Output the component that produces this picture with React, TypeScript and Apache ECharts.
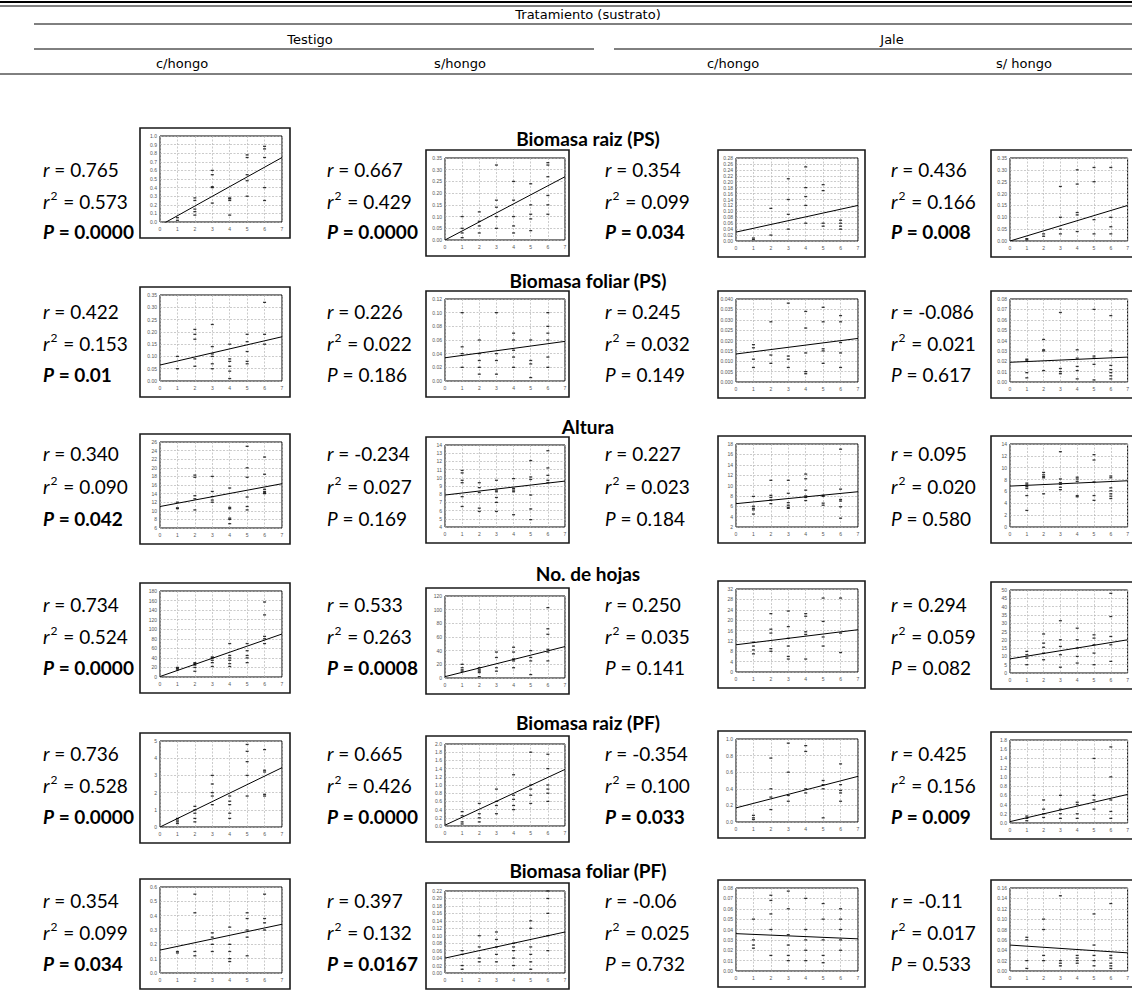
import React, { useEffect, useRef } from "react";
import * as echarts from "echarts";

// ---------- texts ----------
const headerTop = "Tratamiento (sustrato)";
const headerGroups = ["Testigo", "Jale"];
const headerCols = ["c/hongo", "s/hongo", "c/hongo", "s/ hongo"];
const rowTitles = [
  "Biomasa raiz (PS)",
  "Biomasa foliar (PS)",
  "Altura",
  "No. de hojas",
  "Biomasa raiz (PF)",
  "Biomasa foliar (PF)",
];

const rVals = [
  ["0.765", "0.667", "0.354", "0.436"],
  ["0.422", "0.226", "0.245", "-0.086"],
  ["0.340", "-0.234", "0.227", "0.095"],
  ["0.734", "0.533", "0.250", "0.294"],
  ["0.736", "0.665", "-0.354", "0.425"],
  ["0.354", "0.397", "-0.06", "-0.11"],
];
const r2Vals = [
  ["0.573", "0.429", "0.099", "0.166"],
  ["0.153", "0.022", "0.032", "0.021"],
  ["0.090", "0.027", "0.023", "0.020"],
  ["0.524", "0.263", "0.035", "0.059"],
  ["0.528", "0.426", "0.100", "0.156"],
  ["0.099", "0.132", "0.025", "0.017"],
];
const pVals = [
  ["0.0000", "0.0000", "0.034", "0.008"],
  ["0.01", "0.186", "0.149", "0.617"],
  ["0.042", "0.169", "0.184", "0.580"],
  ["0.0000", "0.0008", "0.141", "0.082"],
  ["0.0000", "0.0000", "0.033", "0.009"],
  ["0.034", "0.0167", "0.732", "0.533"],
];
const pBold = [
  [true, true, true, true],
  [true, false, false, false],
  [true, false, false, false],
  [true, true, false, false],
  [true, true, true, true],
  [true, true, false, false],
];

// ---------- scatter data: for each panel, y values observed at x = 1..6 ----------
const biomasaRaizPS = [
  [[0.05, 0.02], [0.28, 0.25, 0.15, 0.12, 0.08], [0.6, 0.55, 0.41, 0.4, 0.22], [0.28, 0.25, 0.27, 0.08], [0.78, 0.75, 0.55, 0.48, 0.3], [0.88, 0.85, 0.75, 0.4, 0.25]],
  [[0.1, 0.05, 0.03, 0.01], [0.12, 0.08, 0.06, 0.03], [0.32, 0.17, 0.14, 0.1, 0.05], [0.25, 0.17, 0.1, 0.06, 0.03], [0.24, 0.15, 0.11, 0.09, 0.04], [0.33, 0.32, 0.27, 0.19, 0.15, 0.11]],
  [[0.01, 0.005], [0.11, 0.02], [0.21, 0.14, 0.09, 0.04], [0.25, 0.18, 0.15, 0.12, 0.06], [0.19, 0.17, 0.06, 0.05], [0.07, 0.06, 0.05, 0.04]],
  [[0.01, 0.005], [0.03, 0.02], [0.23, 0.1, 0.05, 0.03], [0.3, 0.24, 0.12, 0.11, 0.04], [0.31, 0.25, 0.09, 0.03], [0.31, 0.1, 0.06, 0.03]],
];
const biomasaFoliarPS = [
  [[0.1, 0.05], [0.21, 0.19, 0.17, 0.09, 0.06], [0.23, 0.14, 0.11, 0.1, 0.07, 0.05], [0.15, 0.09, 0.08, 0.06, 0.04, 0.01], [0.19, 0.16, 0.12, 0.08, 0.07], [0.32, 0.19, 0.15]],
  [[0.1, 0.05, 0.04, 0.02], [0.06, 0.04, 0.03, 0.02, 0.01], [0.1, 0.04, 0.03, 0.01], [0.07, 0.06, 0.045, 0.035, 0.02], [0.06, 0.03, 0.025, 0.005], [0.1, 0.08, 0.07, 0.06, 0.035, 0.02]],
  [[0.018, 0.0165, 0.011, 0.007], [0.029, 0.013, 0.009], [0.038, 0.0125, 0.011, 0.007], [0.034, 0.026, 0.014, 0.005, 0.004], [0.036, 0.029, 0.016, 0.015, 0.009], [0.032, 0.029, 0.019, 0.014, 0.007]],
  [[0.022, 0.021, 0.009, 0.004], [0.041, 0.031, 0.03, 0.011], [0.067, 0.013, 0.01, 0.008], [0.031, 0.023, 0.015, 0.011, 0.003], [0.07, 0.025, 0.023, 0.017, 0.002], [0.064, 0.03, 0.016, 0.012, 0.009, 0.006, 0.003]],
];
const altura = [
  [[12, 10.7, 10.5], [18.3, 17.8, 13.5, 12.8, 10.2], [18, 14.5, 13.3, 12.5, 12], [15.3, 10.8, 10.5, 8.3, 8, 7], [25, 20, 17.8, 13.2, 11, 10.2], [22.5, 18.5, 15, 14.5, 14.2, 14]],
  [[10.9, 10.6, 9.7, 9.4, 7.7, 6.5], [9.4, 8.8, 8.2, 6.3, 5.9], [9.7, 8.5, 8.3, 7.6, 7, 5.9], [9.9, 8.7, 8.5, 8.3, 5.5], [12.1, 10.1, 9.8, 7.9, 6.2, 4.9], [13.3, 11.2, 10.3, 9.7, 9.4]],
  [[7.9, 6, 5.6, 5.3, 4.5], [11, 8.1, 7.7, 7.2, 6.5], [11, 8.5, 6.7, 6.2, 5.8, 5.6], [12.2, 11.3, 9.1, 8, 7.7, 7.1], [8.1, 7.9, 6.6, 6.2], [17, 9.3, 7.3, 7, 5.9, 3.7]],
  [[7.4, 7.1, 6.8, 6.5, 5.3, 2.8], [9.2, 8.8, 8.5, 8.3, 5.6], [12.7, 8.1, 7.5, 7.2, 6.7, 6.3], [8.4, 8.1, 7.7, 5.3, 5.1], [12.2, 11.3, 7.6, 5.3, 4.5], [8.6, 8.3, 6.6, 6.1, 5.6, 5.2, 4.8]],
];
const noHojas = [
  [[20, 18, 15], [30, 28, 25, 20, 12], [42, 40, 35, 30, 22], [70, 45, 40, 35, 28, 22], [70, 55, 45, 40, 30], [157, 130, 85, 80, 70]],
  [[20, 15, 12, 10], [15, 12, 10, 8, 2], [38, 30, 15, 10], [45, 38, 28, 25, 15], [40, 30, 25, 5], [103, 72, 64, 42, 38, 25]],
  [[11.5, 10, 8.5, 7], [22.5, 16.5, 15, 9, 8], [23.5, 17.5, 13, 10, 6, 5], [22.5, 21.5, 15.5, 14.5, 5], [28.5, 19.5, 13.5, 10], [28.5, 15, 7.5]],
  [[13, 11, 9, 5], [23.5, 18, 15.5, 12, 8], [31.5, 20, 16, 11, 3.5], [27, 20, 15, 10, 6], [23, 21, 17, 12, 5], [48, 34, 22, 17, 7]],
];
const biomasaRaizPF = [
  [[0.5, 0.4, 0.3, 0.2], [1.2, 1.0, 0.8, 0.5, 0.3], [3.0, 2.5, 2.0, 1.8, 1.3], [1.8, 1.5, 1.3, 0.8, 0.5], [4.8, 4.4, 3.8, 3.0, 1.8], [4.5, 3.3, 3.2, 1.9, 1.8]],
  [[0.35, 0.25, 0.1, 0.05], [0.55, 0.3, 0.2, 0.1], [0.9, 0.6, 0.5, 0.3], [1.25, 0.75, 0.65, 0.5, 0.4], [1.8, 1.0, 0.9, 0.75, 0.55], [1.75, 1.4, 1.0, 0.9, 0.8, 0.6]],
  [[0.08, 0.05, 0.03], [0.77, 0.4, 0.3, 0.15], [0.95, 0.6, 0.32, 0.25], [0.92, 0.85, 0.4, 0.35], [0.5, 0.45, 0.4, 0.05], [0.7, 0.45, 0.38, 0.35, 0.25]],
  [[0.15, 0.1, 0.05], [0.5, 0.3, 0.2, 0.12], [0.6, 0.3, 0.2, 0.1], [0.45, 0.4, 0.2, 0.1], [1.4, 0.6, 0.5, 0.3], [1.65, 1.0, 0.5, 0.25, 0.1]],
];
const biomasaFoliarPF = [
  [[0.15, 0.14], [0.55, 0.42, 0.15, 0.12], [0.28, 0.25, 0.2, 0.15], [0.32, 0.2, 0.15, 0.1, 0.08], [0.42, 0.38, 0.3, 0.25, 0.12], [0.55, 0.38, 0.35, 0.3]],
  [[0.06, 0.05, 0.02, 0.01], [0.1, 0.07, 0.04, 0.03], [0.11, 0.09, 0.07, 0.05, 0.03], [0.08, 0.07, 0.06, 0.04, 0.02], [0.14, 0.12, 0.07, 0.05, 0.03, 0.01], [0.22, 0.2, 0.16, 0.1, 0.06]],
  [[0.05, 0.03, 0.025, 0.022], [0.073, 0.068, 0.055, 0.04, 0.015], [0.077, 0.06, 0.035, 0.025, 0.015, 0.01], [0.07, 0.04, 0.03, 0.02, 0.01], [0.065, 0.05, 0.03, 0.015, 0.008], [0.06, 0.05, 0.04, 0.03, 0.02]],
  [[0.065, 0.06, 0.02, 0.005], [0.1, 0.08, 0.03, 0.02], [0.145, 0.02, 0.015, 0.01], [0.03, 0.025, 0.02, 0.015], [0.11, 0.05, 0.03, 0.02, 0.01], [0.13, 0.03, 0.025, 0.015, 0.01, 0.005]],
];
const panelPoints = [biomasaRaizPS, biomasaFoliarPS, altura, noHojas, biomasaRaizPF, biomasaFoliarPF];

// fitted lines: [y at x = 0, y at x = 7]
const fitLines = [
  [[-0.04, 0.75], [0.0, 0.27], [0.03, 0.12], [0.0, 0.15]],
  [[0.065, 0.18], [0.034, 0.058], [0.0135, 0.021], [0.019, 0.024]],
  [[11, 16.3], [7.9, 9.6], [6.5, 8.8], [6.9, 7.8]],
  [[1, 90], [2, 46], [10.5, 16.3], [8.5, 20]],
  [[0, 3.45], [0.02, 1.38], [0.17, 0.55], [0.03, 0.62]],
  [[0.16, 0.34], [0.04, 0.11], [0.036, 0.031], [0.05, 0.035]],
];

// y-axis tick scales
const yMax = [
  [1.0, 0.35, 0.28, 0.35],
  [0.35, 0.12, 0.04, 0.08],
  [26, 14, 18, 14],
  [180, 120, 32, 50],
  [5, 2.0, 1.0, 1.8],
  [0.6, 0.22, 0.08, 0.16],
];
const yMin = [
  [0, 0, 0, 0],
  [0, 0, 0, 0],
  [6, 4, 2, 0],
  [0, 0, 0, 0],
  [0, 0, 0, 0],
  [0, 0, 0, 0],
];
const yStep = [
  [0.1, 0.05, 0.02, 0.05],
  [0.05, 0.02, 0.005, 0.01],
  [2, 1, 2, 2],
  [20, 20, 4, 5],
  [1, 0.2, 0.2, 0.2],
  [0.1, 0.02, 0.01, 0.02],
];
const yDecimals = [
  [1, 2, 2, 2],
  [2, 2, 3, 2],
  [0, 0, 0, 0],
  [0, 0, 0, 0],
  [0, 1, 1, 1],
  [1, 2, 2, 2],
];
const xTicks = [0, 1, 2, 3, 4, 5, 6, 7];

// ---------- layout ----------
const W = 1132;
const H = 991;
const FONT = "Lato, 'Noto Sans', sans-serif";
const HFONT = "'DejaVu Sans', Verdana, sans-serif";
const TITLE_X = 588;
const colTextX = [43, 327, 605, 891];
const colBoxX = [140, 426, 718, 991];
const colBoxW = [150, 143, 147, 147];
const colBoxH = [110, 106, 107, 107];
const colInnerL = [20, 19, 18, 19];
const colInnerW = [122, 120, 122, 122];
const rowTitleY = [138, 280, 426, 573, 722, 870];
const rowTextY = [
  [169, 201, 231],
  [311, 343, 374],
  [453, 486, 518],
  [604, 636, 667],
  [753, 785, 816],
  [900, 932, 963],
];
const boxTop = [
  [128, 150, 150, 150],
  [287, 291, 291, 291],
  [434, 437, 436, 436],
  [583, 588, 581, 582],
  [733, 736, 731, 732],
  [879, 883, 880, 880],
];

function buildOption() {
  const grid: any[] = [];
  const xAxis: any[] = [];
  const yAxis: any[] = [];
  const series: any[] = [];
  const graphic: any[] = [];

  // header
  graphic.push({ type: "line", shape: { x1: 0, y1: 2, x2: W, y2: 2 }, style: { stroke: "#000", lineWidth: 2 } });
  graphic.push({ type: "line", shape: { x1: 0, y1: 6, x2: W, y2: 6 }, style: { stroke: "#000", lineWidth: 1 } });
  graphic.push({ type: "text", x: TITLE_X, y: 14, style: { text: headerTop, fontFamily: HFONT, fontSize: 13, fill: "#000", align: "center", verticalAlign: "middle" } });
  graphic.push({ type: "line", shape: { x1: 34, y1: 24, x2: W, y2: 24 }, style: { stroke: "#000", lineWidth: 1 } });
  const groupX = [310, 892];
  headerGroups.forEach((t, i) => {
    graphic.push({ type: "text", x: groupX[i], y: 39, style: { text: t, fontFamily: HFONT, fontSize: 13, fill: "#000", align: "center", verticalAlign: "middle" } });
  });
  graphic.push({ type: "line", shape: { x1: 34, y1: 49, x2: 594, y2: 49 }, style: { stroke: "#000", lineWidth: 1 } });
  graphic.push({ type: "line", shape: { x1: 614, y1: 49, x2: W, y2: 49 }, style: { stroke: "#000", lineWidth: 1 } });
  const colHX = [182, 460, 733, 1024];
  headerCols.forEach((t, i) => {
    graphic.push({ type: "text", x: colHX[i], y: 63, style: { text: t, fontFamily: HFONT, fontSize: 13, fill: "#000", align: "center", verticalAlign: "middle" } });
  });
  graphic.push({ type: "line", shape: { x1: 0, y1: 74, x2: W, y2: 74 }, style: { stroke: "#000", lineWidth: 1 } });

  const FS = 19;
  const rich = {
    i: { fontFamily: FONT, fontSize: FS, fontStyle: "italic", fill: "#000", lineHeight: 24 },
    n: { fontFamily: FONT, fontSize: FS, fill: "#000", lineHeight: 24 },
    s: { fontFamily: FONT, fontSize: 12, fill: "#000", verticalAlign: "top", padding: [0, 1, 0, 1] },
    bi: { fontFamily: FONT, fontSize: FS, fontStyle: "italic", fontWeight: "bold", fill: "#000", lineHeight: 24 },
    b: { fontFamily: FONT, fontSize: FS, fontWeight: "bold", fill: "#000", lineHeight: 24 },
  };

  for (let r = 0; r < 6; r++) {
    graphic.push({
      type: "text",
      x: TITLE_X,
      y: rowTitleY[r],
      z: 10,
      style: { text: rowTitles[r], fontFamily: FONT, fontSize: 19, fontWeight: "bold", fill: "#000", align: "center", verticalAlign: "middle" },
    });
    for (let c = 0; c < 4; c++) {
      const idx = r * 4 + c;
      const bx = colBoxX[c];
      const by = boxTop[r][c];
      const bh = colBoxH[c];
      // stats text
      graphic.push({ type: "text", x: colTextX[c], y: rowTextY[r][0], style: { text: `{i|r}{n| = ${rVals[r][c]}}`, rich, verticalAlign: "middle" } });
      graphic.push({ type: "text", x: colTextX[c], y: rowTextY[r][1], style: { text: `{i|r}{s|2}{n| = ${r2Vals[r][c]}}`, rich, verticalAlign: "middle" } });
      const pt = pBold[r][c] ? `{bi|P}{b| = ${pVals[r][c]}}` : `{i|P}{n| = ${pVals[r][c]}}`;
      graphic.push({ type: "text", x: colTextX[c], y: rowTextY[r][2], style: { text: pt, rich, verticalAlign: "middle" } });

      // panel frame
      graphic.push({
        type: "rect",
        shape: { x: bx, y: by, width: colBoxW[c], height: bh },
        style: { fill: "none", stroke: "#1a1a1a", lineWidth: 1.6 },
      });

      grid.push({
        left: bx + colInnerL[c],
        top: by + 8,
        width: colInnerW[c],
        height: bh - 24,
        show: true,
        borderColor: "#000",
        borderWidth: 1,
        backgroundColor: "transparent",
        containLabel: false,
      });
      const dec = yDecimals[r][c];
      xAxis.push({
        gridIndex: idx,
        type: "value",
        min: xTicks[0],
        max: xTicks[xTicks.length - 1],
        interval: 1,
        axisLine: { show: false },
        axisTick: { show: false },
        axisLabel: { fontSize: 5, color: "#555", margin: 4, fontFamily: "Arial, 'Liberation Sans', sans-serif" },
        splitLine: { show: true, lineStyle: { color: "#b5b5b5", width: 0.7, type: [2, 1.5] } },
      });
      yAxis.push({
        gridIndex: idx,
        type: "value",
        min: yMin[r][c],
        max: yMax[r][c],
        interval: yStep[r][c],
        axisLine: { show: false },
        axisTick: { show: false },
        axisLabel: {
          fontSize: 5,
          color: "#555",
          margin: 3,
          fontFamily: "Arial, 'Liberation Sans', sans-serif",
          formatter: (v: number) => v.toFixed(dec),
        },
        splitLine: { show: true, lineStyle: { color: "#b5b5b5", width: 0.7, type: [2, 1.5] } },
      });
      const pts: number[][] = [];
      panelPoints[r][c].forEach((ys, gi) => {
        ys.forEach((y) => pts.push([gi + 1, y]));
      });
      series.push({
        type: "scatter",
        xAxisIndex: idx,
        yAxisIndex: idx,
        data: pts,
        symbol: "rect",
        symbolSize: [3, 1.3],
        itemStyle: { color: "#000" },
        silent: true,
      });
      series.push({
        type: "line",
        xAxisIndex: idx,
        yAxisIndex: idx,
        data: [
          [xTicks[0], fitLines[r][c][0]],
          [xTicks[xTicks.length - 1], fitLines[r][c][1]],
        ],
        symbol: "none",
        clip: true,
        lineStyle: { color: "#000", width: 1 },
        silent: true,
      });
    }
  }

  return {
    animation: false,
    backgroundColor: "#fff",
    grid,
    xAxis,
    yAxis,
    series,
    graphic,
  };
}

export default function App() {
  const ref = useRef<HTMLDivElement>(null);
  useEffect(() => {
    if (!ref.current) return;
    const chart = echarts.init(ref.current, null, { renderer: "svg" });
    chart.setOption(buildOption() as any);
    return () => chart.dispose();
  }, []);
  return (
    <div
      ref={ref}
      style={{ position: "fixed", left: 0, top: 0, width: W, height: H, background: "#fff", overflow: "hidden" }}
    />
  );
}
